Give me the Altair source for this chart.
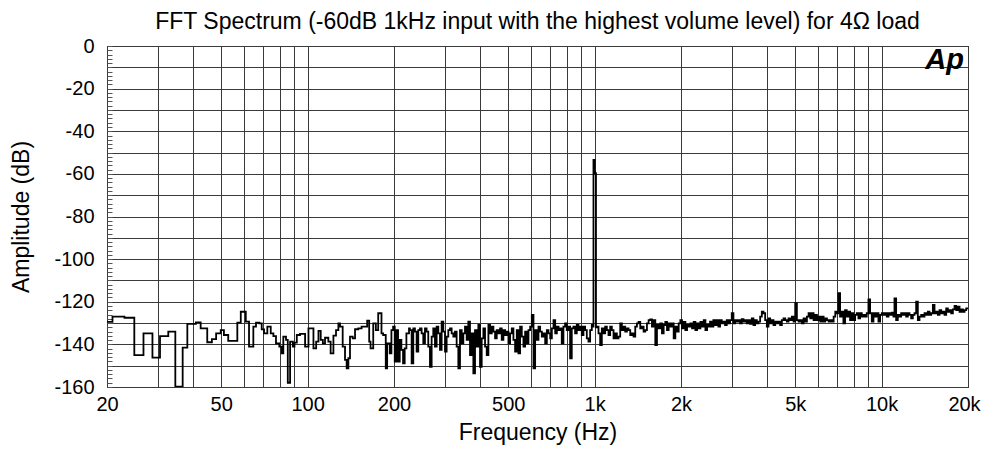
import altair as alt
import pandas as pd

# Frequency (Hz) where each displayed FFT step begins, and its level (dB)
FREQ_HZ = [
    20.0, 20.9, 23.0, 24.9, 26.8, 28.8, 30.6, 32.7, 34.6, 36.7, 38.1, 40.8, 42.4, 44.7, 46.4, 48.0,
    49.8, 51.1, 52.9, 56.9, 58.5, 60.9, 62.5, 64.7, 66.1, 67.9, 69.2, 70.5, 72.4, 74.4, 76.0, 77.6,
    79.7, 81.2, 82.3, 84.1, 85.3, 86.9, 88.8, 90.0, 91.7, 94.1, 98.0, 100.7, 104.8, 107.1, 109.1,
    111.1, 113.0, 115.0, 118.1, 120.3, 123.0, 125.6, 128.0, 129.7, 132.5, 135.0, 136.8, 138.7, 140.5,
    143.6, 146.3, 150.2, 154.2, 161.3, 163.9, 165.7, 169.3, 172.9, 176.2, 180.9, 183.3, 187.2, 189.3,
    193.3, 195.9, 198.6, 201.2, 203.9, 206.6, 209.4, 212.2, 215.1, 217.9, 220.9, 225.6,
    227.3, 230.4, 233.5, 236.6, 239.8, 243.0, 246.3, 249.6, 253.0, 256.4, 259.8, 263.3, 266.9, 270.5,
    274.1, 277.8, 281.6, 285.4, 289.2, 293.1, 297.1, 301.1, 305.1, 309.2, 313.4, 317.6, 321.9, 326.2,
    330.6, 335.1, 339.6, 344.2, 348.8, 353.5, 358.3, 363.1, 368.0, 373.0, 378.0, 383.1, 388.3, 393.5,
    398.8, 404.2, 409.7, 415.2, 420.8, 426.5, 432.2, 438.1, 444.0, 450.0, 456.0, 462.2, 468.4, 474.7,
    481.1, 487.6, 494.2, 500.9, 507.6, 514.5, 521.4, 528.4, 535.6, 542.8, 550.1, 557.5, 565.0, 572.7,
    580.4, 588.2, 596.2, 604.2, 612.4, 620.6, 629.0, 637.5, 646.1, 654.8, 663.6, 672.6, 681.7, 690.9,
    700.2, 709.6, 719.2, 728.9, 738.7, 748.7, 758.1, 768.3, 778.7, 789.2, 799.8, 810.6, 821.5, 832.6,
    843.8, 855.2, 866.7, 878.4, 890.3, 902.3, 914.5, 926.8, 939.3, 952.0, 964.8, 977.8, 985.0,
    991.0, 1001.0, 1011.0,
    1017.9, 1031.7, 1045.6, 1059.7, 1074.0, 1088.5, 1103.2, 1118.0, 1133.1, 1148.4, 1163.9, 1179.6,
    1195.5, 1211.7, 1228.0, 1244.6, 1261.4, 1278.4, 1295.7, 1313.2, 1330.9, 1348.8, 1367.0, 1385.5,
    1404.2, 1423.1, 1442.3, 1461.8, 1481.5, 1501.5, 1521.8, 1542.3, 1563.1, 1584.2, 1605.6, 1627.3,
    1649.2, 1671.5, 1694.0, 1716.9, 1740.1, 1763.6, 1787.4, 1811.5, 1835.9, 1860.7, 1885.8, 1911.3,
    1937.1, 1963.2, 1989.7, 2016.6, 2043.8, 2071.4, 2099.3, 2127.6, 2156.3, 2185.4, 2214.9, 2244.8,
    2275.1, 2305.8, 2336.9, 2368.4, 2400.4, 2432.8, 2465.6, 2498.9,
    2525, 2559, 2593, 2628, 2664, 2700, 2736, 2773, 2810, 2848, 2887, 2926, 2965, 3005, 3046, 3087,
    3128, 3170, 3213, 3257, 3301, 3345, 3390, 3436, 3482, 3529, 3577, 3625, 3674, 3724, 3774, 3825,
    3876, 3929, 3982, 4035, 4090, 4145, 4201, 4258, 4315, 4373, 4432, 4492, 4553, 4614, 4676, 4739,
    4803, 4868, 4934, 5000, 5068, 5136, 5205, 5275, 5347, 5419, 5492, 5566, 5641, 5717, 5794, 5872,
    5952, 6032, 6113, 6196, 6279, 6364, 6450, 6537, 6625, 6714, 6805, 6897, 6990, 7070,
    7166, 7262, 7360, 7459, 7560, 7662, 7765, 7870, 7976, 8084, 8193, 8303, 8415, 8529, 8644, 8760,
    8878, 8998, 9119, 9242, 9367, 9493, 9621, 9751, 9882, 10015, 10150, 10287, 10426, 10566, 10709,
    10853, 10999, 11088, 11237, 11388, 11542, 11697, 11855, 12015, 12177, 12341, 12507, 12676, 12847,
    13020, 13195, 13373, 13553, 13736, 13921, 14109, 14299, 14492, 14687, 14885, 15085, 15289, 15495,
    15704, 15915, 16130, 16347, 16567, 16791, 17017, 17246, 17479, 17714, 17953, 18195, 18440, 18689,
    18941, 19196, 19455, 19717, 19982, 20000,
]

LEVEL_DB = [
    -129.4, -127.0, -127.5, -145.0, -134.8, -146.2, -136.1, -134.0, -159.8, -141.5, -130.4, -129.7,
    -132.5, -139.0, -137.5, -134.8, -133.3, -135.6, -138.4, -129.8, -124.7, -129.3, -141.1, -131.7,
    -129.8, -130.1, -133.0, -134.8, -131.7, -134.8, -136.1, -139.5, -141.1, -144.2, -136.4, -137.9,
    -158.0, -138.7, -141.1, -139.2, -135.6, -135.1, -141.1, -132.5, -141.9, -138.7, -133.7, -137.9,
    -139.5, -136.9, -138.7, -144.2, -135.9, -133.3, -130.1, -131.7, -141.1, -147.3, -151.2, -146.5,
    -136.4, -137.2, -132.9, -132.5, -131.7, -128.9, -138.7, -141.9, -130.1, -133.3, -125.4, -134.8,
    -135.6, -151.2, -139.5, -144.2, -133.3, -131.7, -148.1, -133.3, -148.1, -137.9, -142.6, -148.9,
    -141.9, -134.8, -132.5,
    -133.3, -148.9, -132.5, -134.0, -143.4, -133.3, -132.5, -134.8, -139.5, -132.5, -134.0, -141.1,
    -150.5, -136.4, -132.5, -141.1, -131.7, -134.8, -142.6, -129.3, -134.0, -143.4, -136.4, -133.3,
    -132.5, -134.8, -136.4, -134.0, -141.1, -151.2, -133.3, -139.5, -134.8, -131.7, -137.9, -129.3,
    -145.0, -134.8, -153.6, -133.3, -141.1, -130.9, -150.5, -137.2, -132.5, -141.1, -145.0, -130.9,
    -134.8, -131.7, -134.0, -137.2, -133.3, -134.8, -132.5, -137.9, -133.3, -135.6, -134.0, -139.5,
    -134.8, -132.5, -137.9, -143.4, -133.3, -144.2, -131.7, -136.4, -141.1, -134.0, -139.5, -133.3,
    -131.7, -126.2, -151.2, -133.3, -137.9, -131.7, -134.0, -136.4, -134.8, -139.5, -133.3, -134.8,
    -137.2, -132.5, -128.6, -134.8, -131.7, -133.3, -132.5, -139.5, -131.7, -130.1, -133.3, -131.7,
    -146.6, -132.5, -131.7, -134.8, -130.9, -133.3, -131.7, -135.6, -131.7, -133.3, -137.2, -138.7,
    -133.3, -130.9, -131.7,
    -53.5, -59.7, -132.0,
    -131.7, -134.8, -140.3, -132.5, -134.8, -131.7, -133.3, -135.6, -131.7, -133.3, -137.2, -134.8,
    -137.2, -136.4, -130.1, -133.3, -131.7, -134.0, -132.5, -133.3, -135.6, -134.8, -136.4, -131.7,
    -130.1, -129.4, -132.5, -131.7, -134.0, -133.3, -130.1, -128.6, -128.3, -131.7, -128.6, -140.3,
    -130.9, -132.5, -130.1, -134.8, -130.9, -129.4, -133.3, -130.1, -131.7, -130.1, -137.2, -131.7,
    -134.0, -130.1, -128.6, -132.5, -129.4, -133.3, -130.9, -131.7, -130.1, -132.5, -129.4, -133.3,
    -130.1, -132.5, -129.4, -131.7, -128.6, -133.3, -130.9, -131.7,
    -129.3, -131.7, -128.6, -130.9, -128.6, -131.7, -128.6, -130.1, -129.3, -130.9, -128.6, -130.1,
    -128.6, -125.4, -130.1, -128.6, -129.3, -128.6, -130.1, -128.2, -129.3, -128.6, -130.1, -128.6,
    -130.4, -127.8, -130.9, -128.6, -130.1, -129.3, -127.0, -124.7, -125.4, -128.6, -131.7, -127.8,
    -130.1, -128.6, -130.9, -129.3, -130.1, -129.3, -130.9, -128.6, -127.8, -128.6, -129.3, -127.8,
    -128.6, -127.0, -129.3, -120.7, -128.6, -129.3, -128.6, -130.1, -127.8, -129.3, -127.0, -125.4,
    -127.8, -125.4, -128.6, -126.2, -128.6, -127.0, -129.3, -127.0, -129.3, -127.8, -128.6, -129.3,
    -128.6, -129.3, -127.0, -124.7, -125.4, -116.0,
    -127.0, -124.7, -130.1, -123.9, -127.0, -124.7, -128.6, -125.4, -128.6, -126.2, -125.4, -127.8,
    -125.4, -127.0, -126.2, -127.0, -125.4, -118.9, -125.4, -129.3, -125.4, -127.0, -125.4, -129.3,
    -126.2, -125.4, -126.2, -125.4, -127.0, -125.4, -126.2, -125.1, -127.0, -118.4, -128.6, -126.2,
    -127.0, -125.4, -126.2, -125.4, -127.0, -125.4, -126.2, -127.8, -126.2, -125.4, -120.0, -128.6,
    -127.0, -126.2, -127.0, -125.4, -126.2, -124.7, -126.2, -125.4, -121.5, -125.4, -124.7, -126.2,
    -123.9, -125.4, -124.7, -126.2, -123.1, -124.7, -123.9, -125.4, -123.6, -122.0, -123.9, -122.3,
    -124.7, -123.6, -124.7, -123.9, -123.1, -123.1, -123.1,
]

X_GRID = [20, 30, 40, 50, 60, 70, 80, 90, 100, 200, 300, 400, 500, 600, 700, 800, 900,
          1000, 2000, 3000, 4000, 5000, 6000, 7000, 8000, 9000, 10000, 20000]
X_LABELED = [20, 50, 100, 200, 500, 1000, 2000, 5000, 10000, 20000]
Y_GRID = list(range(-160, 1, 10))
Y_MINOR = list(range(-160, 1, 2))

TITLE = "FFT Spectrum (-60dB 1kHz input with the highest volume level) for 4\u03a9 load"
FONT = "Liberation Sans"

df = pd.DataFrame({"f": FREQ_HZ, "db": LEVEL_DB})

x_label_expr = (
    "indexof([" + ",".join(str(v) for v in X_LABELED) + "], datum.value) >= 0 ? "
    "(datum.value >= 1000 ? (datum.value / 1000) + 'k' : '' + datum.value) : ''"
)

x_enc = alt.X(
    "f:Q",
    scale=alt.Scale(type="log", domain=[20, 20000], nice=False),
    axis=alt.Axis(
        values=X_GRID, labelExpr=x_label_expr, title="Frequency (Hz)",
        grid=True, ticks=False, tickSize=0, domain=False, labelFlush=False,
        labelOverlap=False, labelFontSize=20, labelPadding=7,
        labelOffset={"condition": {"test": "datum.value == 20000", "value": -4}, "value": 0},
        titleFontSize=23, titlePadding=7, titleFontWeight="normal",
    ),
)

y_scale = alt.Scale(domain=[-160, 0], nice=False)

line = alt.Chart(df).mark_line(
    interpolate="step-after", color="black", strokeWidth=1.8, clip=True
).encode(
    x=x_enc,
    y=alt.Y(
        "db:Q", scale=y_scale,
        axis=alt.Axis(
            values=Y_GRID, labelExpr="datum.value % 20 == 0 ? '' + datum.value : ''",
            title="Amplitude (dB)", grid=True, ticks=False, tickSize=0, domain=False,
            labelFontSize=20, labelPadding=13, labelOverlap=False, labelFlush=False,
            titleFontSize=23, titlePadding=20, titleFontWeight="normal", orient="left",
        ),
    ),
)

minor = alt.Chart(df).mark_line(opacity=0).encode(
    y=alt.Y(
        "db:Q", scale=y_scale,
        axis=alt.Axis(
            values=Y_MINOR, labels=False, grid=False, domain=False, ticks=True,
            tickSize=5, tickColor="#555", tickWidth=1, offset=-5, title=None, orient="left",
        ),
    ),
)

logo = alt.Chart(pd.DataFrame({"t": ["Ap"]})).mark_text(
    font=FONT, fontSize=29, fontWeight="bold", fontStyle="italic",
    align="right", baseline="alphabetic", color="black",
).encode(text="t:N", x=alt.value(857), y=alt.value(23))

chart = alt.layer(line, minor, logo).resolve_scale(y="shared").resolve_axis(y="independent").properties(
    width=861, height=341,
    padding={"left": 99, "top": 38, "right": 14, "bottom": 58},
    autosize=alt.AutoSizeParams(type="none"),
    title=alt.TitleParams(text=TITLE, fontSize=23, font=FONT, fontWeight="normal",
                          anchor="middle", offset=2, color="black"),
).configure(
    font=FONT, background="white",
).configure_view(
    stroke="black", strokeWidth=1,
).configure_axis(
    labelFont=FONT, titleFont=FONT, labelColor="black", titleColor="black",
    gridColor="#3a3a3a", gridWidth=1, gridOpacity=1,
)

chart.save("out.html", embed_options={"renderer": "svg", "actions": False})
